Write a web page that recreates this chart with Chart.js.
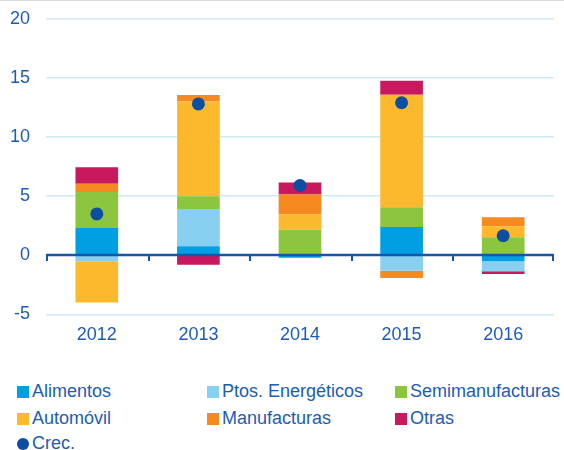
<!DOCTYPE html>
<html>
<head>
<meta charset="utf-8">
<script src="https://cdn.jsdelivr.net/npm/chart.js@4"></script>
<style>
  body { margin: 0; background: #fff; font-family: "Liberation Sans", Arial, sans-serif; }
  #wrap { position: relative; width: 564px; height: 450px; border-top: 1px solid #dcdcdc; box-sizing: border-box; overflow: hidden; }
  #chart { position: absolute; left: 0; top: -9px; }
  .leg { position: absolute; font-size: 18px; color: #1d5cb4; white-space: nowrap; line-height: 20px; }
  .leg i { display: inline-block; width: 12px; height: 12px; margin-right: 3px; vertical-align: -1px; }
  .leg i.dot { border-radius: 50%; }
</style>
</head>
<body>
<div id="wrap">
  <canvas id="chart" width="564" height="356"></canvas>
  <div id="legend"></div>
</div>
<script>
// data
const years = ['2012', '2013', '2014', '2015', '2016'];
const alimentos = [2.3, 0.76, -0.2, 2.4, -0.5];
const ptosEnergeticos = [-0.5, 3.16, 0, -1.3, -0.86];
const semimanufacturas = [3.05, 1.08, 2.15, 1.67, 1.53];
const automovil = [-3.5, 8.0, 1.3, 9.5, 0.93];
const manufacturas = [0.7, 0.56, 1.7, -0.62, 0.76];
const otras = [1.4, -0.8, 1.0, 1.2, -0.22];
const crec = [3.5, 12.8, 5.9, 12.9, 1.65];
const yTicks = [-5, 0, 5, 10, 15, 20];

const textColor = '#1d5cb4';

const series = [
    { label: 'Alimentos', data: alimentos, color: '#009fe3' },
    { label: 'Ptos. Energéticos', data: ptosEnergeticos, color: '#88d0f1' },
    { label: 'Semimanufacturas', data: semimanufacturas, color: '#8cc63f' },
    { label: 'Automóvil', data: automovil, color: '#fdb92d' },
    { label: 'Manufacturas', data: manufacturas, color: '#f58a20' },
    { label: 'Otras', data: otras, color: '#c9195e' }
];

// zero line with tick marks between categories
const zeroLine = {
    id: 'zeroLine',
    afterDatasetsDraw(chart) {
        const ctx = chart.ctx;
        const y = chart.scales.y;
        const y0 = Math.round(y.getPixelForValue(0));
        const left = chart.chartArea.left, right = chart.chartArea.right;
        ctx.save();
        ctx.strokeStyle = '#1655a8';
        ctx.lineWidth = 2.5;
        ctx.beginPath();
        ctx.moveTo(left, y0);
        ctx.lineTo(right, y0);
        ctx.stroke();
        ctx.lineWidth = 2;
        const step = (right - left) / years.length;
        for (let i = 0; i <= years.length; i++) {
            const px = Math.round(left + i * step) + (i === years.length ? -1 : 1);
            ctx.beginPath();
            ctx.moveTo(px, y0);
            ctx.lineTo(px, y0 + 6);
            ctx.stroke();
        }
        ctx.restore();
    }
};

const datasets = series.map(s => ({
    type: 'bar',
    label: s.label,
    data: s.data,
    backgroundColor: s.color,
    borderWidth: 0,
    stack: 'exp',
    categoryPercentage: 1,
    barPercentage: 0.42,
    order: 2
}));
datasets.push({
    type: 'line',
    label: 'Crec.',
    data: crec,
    showLine: false,
    stack: 'crec',
    pointRadius: 6.5,
    pointBackgroundColor: '#0b4ea2',
    pointBorderWidth: 0,
    order: 1
});

new Chart(document.getElementById('chart').getContext('2d'), {
    data: { labels: years, datasets: datasets },
    options: {
        responsive: false,
        animation: false,
        layout: { padding: { top: 0, right: 10, left: 0, bottom: 0 } },
        plugins: {
            legend: { display: false },
            tooltip: { enabled: false }
        },
        scales: {
            x: {
                stacked: true,
                grid: { display: false },
                border: { display: false },
                ticks: { color: textColor, font: { size: 18, family: 'Liberation Sans' }, padding: 2 }
            },
            y: {
                stacked: true,
                min: yTicks[0],
                max: yTicks[yTicks.length - 1],
                afterBuildTicks: s => { s.ticks = yTicks.map(v => ({ value: v })); },
                afterFit: s => { s.width = 46; },
                grid: {
                    color: ctx => ctx.tick && ctx.tick.value === 0 ? 'rgba(0,0,0,0)' : '#cdeaf8',
                    lineWidth: 1.5,
                    drawTicks: false
                },
                border: { display: false },
                ticks: { color: textColor, font: { size: 18, family: 'Liberation Sans' }, padding: 16 }
            }
        }
    },
    plugins: [zeroLine]
});

// legend in three columns
const legendItems = series.map(s => ({ label: s.label, color: s.color, dot: false }));
legendItems.push({ label: 'Crec.', color: '#0b4ea2', dot: true });
const colX = [17, 207, 395];
const rowY = [380, 407, 432];
const legend = document.getElementById('legend');
legendItems.forEach((it, i) => {
    const d = document.createElement('div');
    d.className = 'leg';
    d.style.left = colX[i % 3] + 'px';
    d.style.top = rowY[Math.floor(i / 3)] + 'px';
    d.innerHTML = '<i class="' + (it.dot ? 'dot' : '') + '" style="background:' + it.color + '"></i>' + it.label;
    legend.appendChild(d);
});
</script>
</body>
</html>
